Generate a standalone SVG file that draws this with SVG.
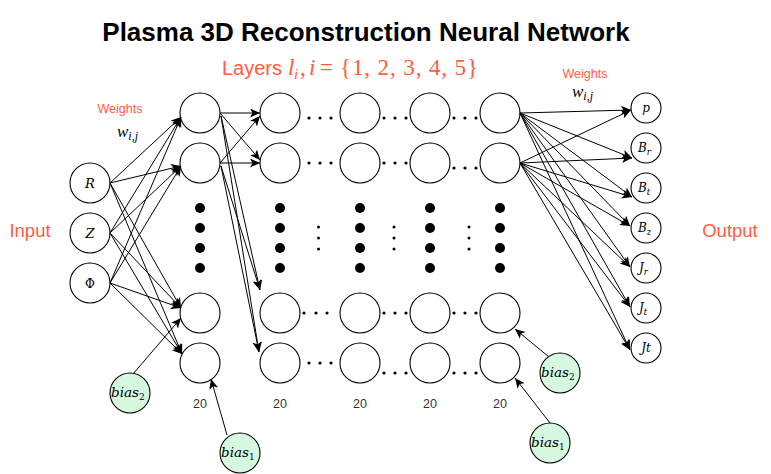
<svg xmlns="http://www.w3.org/2000/svg" width="771" height="474" viewBox="0 0 771 474">
<style>
.n{fill:#fff;stroke:#000;stroke-width:1.1}
.b{fill:#d5f8df;stroke:#000;stroke-width:1.1}
.c{stroke:#000;stroke-width:1;fill:none;marker-end:url(#ah)}
.m{font-family:"DejaVu Serif","Liberation Serif",serif;font-style:italic;fill:#000}
.o{font-family:"Liberation Sans",Arial,sans-serif;fill:#ff5c40}
.cnt{font-family:"Liberation Sans",Arial,sans-serif;font-size:12.5px;fill:#333;text-anchor:middle}
.d{fill:#000}
</style>
<defs>
<marker id="ah" markerUnits="userSpaceOnUse" markerWidth="11" markerHeight="10" refX="10" refY="4.5" orient="auto">
<path d="M0,0 L10,4.5 L0,9 L2.5,4.5 z" fill="#000"/>
</marker>
</defs>
<rect width="771" height="474" fill="#fff"/>
<text x="366" y="41" text-anchor="middle" font-family="Liberation Sans,Arial,sans-serif" font-weight="bold" font-size="26" fill="#000">Plasma 3D Reconstruction Neural Network</text>
<g id="layers-label">
<text x="222" y="75" class="o" font-size="20">Layers</text>
<text y="75" font-family="Liberation Serif,serif" font-size="23" fill="#ff5c40"><tspan x="288" font-style="italic">l</tspan><tspan x="294" y="79" font-size="15" font-style="italic">i</tspan><tspan x="300" y="75">,</tspan><tspan x="309" font-style="italic">i</tspan><tspan x="320">=</tspan></text>
<text x="340" y="75" font-family="Liberation Serif,serif" font-size="23" fill="#ff5c40" textLength="138" lengthAdjust="spacing">{1, 2, 3, 4, 5}</text>
</g>
<text x="30" y="237" class="o" font-size="18.5" text-anchor="middle">Input</text>
<text x="730" y="237" class="o" font-size="18.5" text-anchor="middle">Output</text>
<text x="120" y="113" class="o" font-size="12.5" text-anchor="middle">Weights</text>
<text x="117" y="137" font-family="Liberation Serif,serif" font-style="italic" font-size="17">w<tspan font-size="12" dy="3">i,j</tspan></text>
<text x="585" y="78" class="o" font-size="12.5" text-anchor="middle">Weights</text>
<text x="572" y="97" font-family="Liberation Serif,serif" font-style="italic" font-size="17">w<tspan font-size="12" dy="3">i,j</tspan></text>

<g id="input-nodes">
<g id="in-R"><circle class="n" cx="90" cy="183" r="20"/><text x="90" y="188" class="m" font-size="13" text-anchor="middle">R</text></g>
<g id="in-Z"><circle class="n" cx="90" cy="233" r="20"/><text x="90" y="238" class="m" font-size="13" text-anchor="middle">Z</text></g>
<g id="in-Phi"><circle class="n" cx="90" cy="283" r="20"/><text x="90" y="288" font-family="DejaVu Serif,serif" font-size="12" text-anchor="middle">Φ</text></g>
</g>

<g id="hidden-nodes">
<g id="L1-1"><circle class="n" cx="200" cy="113" r="20"/></g>
<g id="L1-2"><circle class="n" cx="200" cy="163" r="20"/></g>
<g id="L1-3"><circle class="n" cx="200" cy="313" r="20"/></g>
<g id="L1-4"><circle class="n" cx="200" cy="363" r="20"/></g>
<g id="L2-1"><circle class="n" cx="280" cy="113" r="20"/></g>
<g id="L2-2"><circle class="n" cx="280" cy="163" r="20"/></g>
<g id="L2-3"><circle class="n" cx="280" cy="313" r="20"/></g>
<g id="L2-4"><circle class="n" cx="280" cy="363" r="20"/></g>
<g id="L3-1"><circle class="n" cx="360" cy="113" r="20"/></g>
<g id="L3-2"><circle class="n" cx="360" cy="163" r="20"/></g>
<g id="L3-3"><circle class="n" cx="360" cy="313" r="20"/></g>
<g id="L3-4"><circle class="n" cx="360" cy="363" r="20"/></g>
<g id="L4-1"><circle class="n" cx="430" cy="113" r="20"/></g>
<g id="L4-2"><circle class="n" cx="430" cy="163" r="20"/></g>
<g id="L4-3"><circle class="n" cx="430" cy="313" r="20"/></g>
<g id="L4-4"><circle class="n" cx="430" cy="363" r="20"/></g>
<g id="L5-1"><circle class="n" cx="500" cy="113" r="20"/></g>
<g id="L5-2"><circle class="n" cx="500" cy="163" r="20"/></g>
<g id="L5-3"><circle class="n" cx="500" cy="313" r="20"/></g>
<g id="L5-4"><circle class="n" cx="500" cy="363" r="20"/></g>
</g>

<g id="ellipses">
<g class="d">
<circle cx="200" cy="208" r="5"/><circle cx="200" cy="228" r="5"/><circle cx="200" cy="248" r="5"/><circle cx="200" cy="268" r="5"/>
<circle cx="280" cy="208" r="5"/><circle cx="280" cy="228" r="5"/><circle cx="280" cy="248" r="5"/><circle cx="280" cy="268" r="5"/>
<circle cx="360" cy="208" r="5"/><circle cx="360" cy="228" r="5"/><circle cx="360" cy="248" r="5"/><circle cx="360" cy="268" r="5"/>
<circle cx="430" cy="208" r="5"/><circle cx="430" cy="228" r="5"/><circle cx="430" cy="248" r="5"/><circle cx="430" cy="268" r="5"/>
<circle cx="500" cy="208" r="5"/><circle cx="500" cy="228" r="5"/><circle cx="500" cy="248" r="5"/><circle cx="500" cy="268" r="5"/>
</g>
<g class="d">
<circle cx="318.5" cy="227" r="1.5"/><circle cx="318.5" cy="238" r="1.5"/><circle cx="318.5" cy="249" r="1.5"/>
<circle cx="394" cy="227" r="1.5"/><circle cx="394" cy="238" r="1.5"/><circle cx="394" cy="249" r="1.5"/>
<circle cx="469" cy="227" r="1.5"/><circle cx="469" cy="238" r="1.5"/><circle cx="469" cy="249" r="1.5"/>
</g>
<g class="d">
<circle cx="309" cy="118" r="1.6"/><circle cx="320" cy="118" r="1.6"/><circle cx="331" cy="118" r="1.6"/>
<circle cx="384" cy="118" r="1.6"/><circle cx="395" cy="118" r="1.6"/><circle cx="406" cy="118" r="1.6"/>
<circle cx="454" cy="118" r="1.6"/><circle cx="465" cy="118" r="1.6"/><circle cx="476" cy="118" r="1.6"/>
<circle cx="309" cy="163" r="1.6"/><circle cx="320" cy="163" r="1.6"/><circle cx="331" cy="163" r="1.6"/>
<circle cx="384" cy="163" r="1.6"/><circle cx="395" cy="163" r="1.6"/><circle cx="406" cy="163" r="1.6"/>
<circle cx="454" cy="168" r="1.6"/><circle cx="465" cy="168" r="1.6"/><circle cx="476" cy="168" r="1.6"/>
<circle cx="304" cy="313" r="1.6"/><circle cx="316" cy="313" r="1.6"/><circle cx="327" cy="313" r="1.6"/>
<circle cx="384" cy="313" r="1.6"/><circle cx="395" cy="313" r="1.6"/><circle cx="406" cy="313" r="1.6"/>
<circle cx="454" cy="313" r="1.6"/><circle cx="465" cy="313" r="1.6"/><circle cx="476" cy="313" r="1.6"/>
<circle cx="309" cy="363" r="1.6"/><circle cx="320" cy="363" r="1.6"/><circle cx="331" cy="363" r="1.6"/>
<circle cx="384" cy="373" r="1.6"/><circle cx="395" cy="373" r="1.6"/><circle cx="406" cy="373" r="1.6"/>
<circle cx="454" cy="373" r="1.6"/><circle cx="465" cy="373" r="1.6"/><circle cx="476" cy="373" r="1.6"/>
</g>
</g>

<g id="counts">
<text x="200" y="408" class="cnt">20</text>
<text x="280" y="408" class="cnt">20</text>
<text x="360" y="408" class="cnt">20</text>
<text x="430" y="408" class="cnt">20</text>
<text x="500" y="408" class="cnt">20</text>
</g>

<g id="output-nodes">
<g id="out-p"><circle class="n" cx="646" cy="108" r="15"/><text x="646" y="112" class="m" font-size="12" text-anchor="middle">p</text></g>
<g id="out-Br"><circle class="n" cx="646" cy="148" r="15"/><text x="638" y="152" class="m" font-size="12">B<tspan font-size="8.5" dy="2.5">r</tspan></text></g>
<g id="out-Bt"><circle class="n" cx="646" cy="188" r="15"/><text x="638" y="192" class="m" font-size="12">B<tspan font-size="8.5" dy="2.5">t</tspan></text></g>
<g id="out-Bz"><circle class="n" cx="646" cy="228" r="15"/><text x="638" y="232" class="m" font-size="12">B<tspan font-size="8.5" dy="2.5">z</tspan></text></g>
<g id="out-Jr"><circle class="n" cx="646" cy="268" r="15"/><text x="639" y="272" class="m" font-size="12">J<tspan font-size="8.5" dy="2.5">r</tspan></text></g>
<g id="out-Jt1"><circle class="n" cx="646" cy="308" r="15"/><text x="639" y="312" class="m" font-size="12">J<tspan font-size="8.5" dy="2.5">t</tspan></text></g>
<g id="out-Jt2"><circle class="n" cx="646" cy="348" r="15"/><text x="646" y="352" class="m" font-size="12" text-anchor="middle">Jt</text></g>
</g>

<g id="bias-nodes">
<g id="bias2-left"><circle class="b" cx="130" cy="393" r="20"/><text x="111" y="397" class="m" font-size="13.5">bias<tspan font-size="9" font-style="normal" dy="3">2</tspan></text></g>
<g id="bias1-left"><circle class="b" cx="240" cy="453" r="20"/><text x="221" y="457" class="m" font-size="13.5">bias<tspan font-size="9" font-style="normal" dy="3">1</tspan></text></g>
<g id="bias2-right"><circle class="b" cx="560" cy="373" r="20"/><text x="541" y="377" class="m" font-size="13.5">bias<tspan font-size="9" font-style="normal" dy="3">2</tspan></text></g>
<g id="bias1-right"><circle class="b" cx="550" cy="443" r="20"/><text x="531" y="447" class="m" font-size="13.5">bias<tspan font-size="9" font-style="normal" dy="3">1</tspan></text></g>
</g>

<g id="connectors">
<path class="c" d="M110,183 L181,117"/>
<path class="c" d="M110,183 L181,166"/>
<path class="c" d="M110,183 L181,308"/>
<path class="c" d="M110,183 L182,354"/>
<path class="c" d="M110,233 L181,117"/>
<path class="c" d="M110,233 L181,166"/>
<path class="c" d="M110,233 L181,308"/>
<path class="c" d="M110,233 L182,354"/>
<path class="c" d="M110,283 L181,117"/>
<path class="c" d="M110,283 L181,166"/>
<path class="c" d="M110,283 L181,308"/>
<path class="c" d="M110,283 L182,354"/>

<path class="c" d="M220,113 L260,113"/>
<path class="c" d="M220,113 L260,160"/>
<path class="c" d="M220,163 L260,116"/>
<path class="c" d="M220,163 L260,163"/>
<path class="c" d="M221,116 L260,290"/>
<path class="c" d="M221,116 L259,352"/>
<path class="c" d="M221,166 L260,290"/>
<path class="c" d="M221,166 L259,352"/>

<path class="c" d="M520,113 L631,110"/>
<path class="c" d="M520,113 L632,158"/>
<path class="c" d="M520,113 L632,197"/>
<path class="c" d="M520,113 L630,226"/>
<path class="c" d="M520,113 L630,267"/>
<path class="c" d="M520,113 L630,307"/>
<path class="c" d="M520,113 L630,350"/>
<path class="c" d="M520,163 L631,110"/>
<path class="c" d="M520,163 L632,158"/>
<path class="c" d="M520,163 L632,197"/>
<path class="c" d="M520,163 L630,226"/>
<path class="c" d="M520,163 L630,267"/>
<path class="c" d="M520,163 L630,307"/>
<path class="c" d="M520,163 L630,350"/>

<path class="c" d="M133,374 L181,318"/>
<path class="c" d="M227,435 L211,379"/>
<path class="c" d="M549,357 L515,329"/>
<path class="c" d="M550,423 L515,378"/>
</g>
</svg>
